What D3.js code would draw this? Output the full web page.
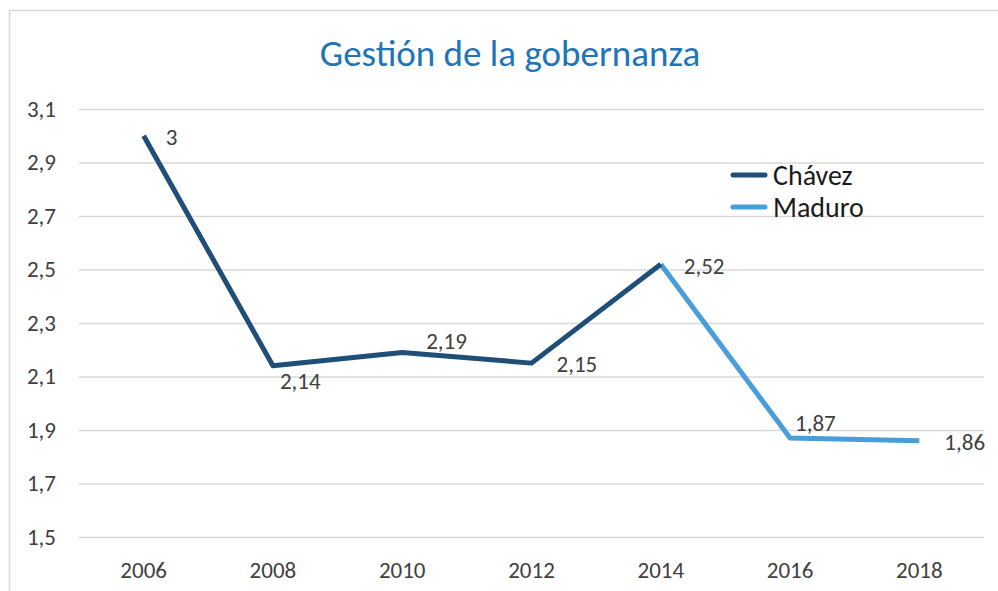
<!DOCTYPE html>
<html>
<head>
<meta charset="utf-8">
<script src="https://cdn.jsdelivr.net/npm/d3@7"></script>
<style>
  body { margin: 0; background: #fff; }
  text { font-family: Carlito, Lato, "Open Sans", sans-serif; }
</style>
</head>
<body>
<svg id="chart" width="998" height="591"></svg>
<script>
const years = ['2006', '2008', '2010', '2012', '2014', '2016', '2018'];
const chavez = [
    { year: '2006', value: 3 },
    { year: '2008', value: 2.14 },
    { year: '2010', value: 2.19 },
    { year: '2012', value: 2.15 },
    { year: '2014', value: 2.52 }
];
const maduro = [
    { year: '2014', value: 2.52 },
    { year: '2016', value: 1.87 },
    { year: '2018', value: 1.86 }
];
const yTicks = [1.5, 1.7, 1.9, 2.1, 2.3, 2.5, 2.7, 2.9, 3.1];

// label nudges, per year
const labelOffsets = {
    '2006': [22, 1], '2008': [7, 15], '2010': [24, -11], '2012': [25, 1],
    '2014': [23, 2], '2016': [5, -15], '2018': [25, 1]
};

const colors = { chavez: '#1f4e79', maduro: '#4a9ed8', grid: '#d9d9d9', text: '#404040' };
const fontSize = 23;

const svg = d3.select('#chart');

// outer border
svg.append('rect').attr('x', 9.5).attr('y', 10.5).attr('width', 1000).attr('height', 600)
    .attr('fill', 'none').attr('stroke', colors.grid).attr('stroke-width', 1.5);

const x = d3.scaleBand().domain(years).range([79, 984]);
const y = d3.scaleLinear().domain([1.5, 3.1]).range([537, 109]);
const cx = (d) => x(d) + x.bandwidth() / 2;

// grid + y labels
const yAxis = d3.axisLeft(y).tickValues(yTicks).tickSize(-(984 - 79)).tickPadding(23)
    .tickFormat((d) => d3.format('.1f')(d).replace('.', ','));
const gy = svg.append('g').attr('transform', 'translate(79,0)').call(yAxis);
gy.select('.domain').remove();
gy.selectAll('line').attr('stroke', colors.grid).attr('stroke-width', 1.5);
gy.selectAll('text').attr('fill', colors.text).attr('font-size', fontSize);

// x labels
const xAxis = d3.axisBottom(x).tickSize(0).tickPadding(25);
const gx = svg.append('g').attr('transform', 'translate(0,537)').call(xAxis);
gx.select('.domain').remove();
gx.selectAll('text').attr('fill', colors.text).attr('font-size', fontSize);

// title
svg.append('text').attr('x', 510).attr('y', 66).attr('text-anchor', 'middle')
    .attr('font-size', 37).attr('fill', '#2074b8').text('Gestión de la gobernanza');

const line = d3.line().x((d) => cx(d.year)).y((d) => y(d.value));

svg.append('path').datum(maduro).attr('d', line).attr('fill', 'none')
    .attr('stroke', colors.maduro).attr('stroke-width', 5).attr('stroke-linejoin', 'round');
svg.append('path').datum(chavez).attr('d', line).attr('fill', 'none')
    .attr('stroke', colors.chavez).attr('stroke-width', 5).attr('stroke-linejoin', 'round');

// data labels
const allPoints = chavez.concat(maduro.slice(1));
svg.append('g').selectAll('text').data(allPoints).enter().append('text')
    .attr('x', (d) => cx(d.year) + labelOffsets[d.year][0])
    .attr('y', (d) => y(d.value) + labelOffsets[d.year][1])
    .attr('dy', '0.35em')
    .attr('font-size', fontSize).attr('fill', colors.text)
    .text((d) => String(d.value).replace('.', ','));

// legend
const legend = [{ name: 'Chávez', color: colors.chavez }, { name: 'Maduro', color: colors.maduro }];
const lg = svg.append('g').selectAll('g').data(legend).enter().append('g')
    .attr('transform', (d, i) => `translate(733,${175 + i * 32})`);
lg.append('line').attr('x1', 0).attr('x2', 32).attr('stroke', (d) => d.color)
    .attr('stroke-width', 5).attr('stroke-linecap', 'round');
lg.append('text').attr('x', 40).attr('dy', '0.35em').attr('font-size', 28)
    .attr('fill', '#1a1a1a').text((d) => d.name);
</script>
</body>
</html>
